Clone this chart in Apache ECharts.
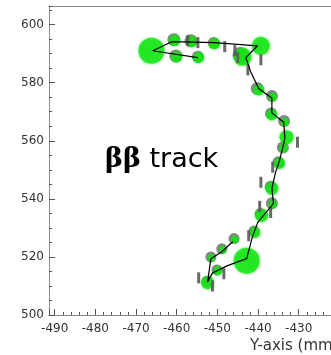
<!DOCTYPE html>
<html>
<head>
<meta charset="utf-8">
<script src="https://cdn.jsdelivr.net/npm/echarts@6/dist/echarts.min.js"></script>
<style>html,body{margin:0;padding:0;background:#fff;}#c{width:331px;height:355px;}</style>
</head>
<body>
<div id="c"></div>
<script>
// Axis ranges / ticks
var xRange = [-491.4, -420];
var yRange = [500, 606.4];
var yMajorStep = 20;
var yMinorStep = 5;
var xTitle = 'Y-axis (mm)';

// Green hit circles: x, y (mm) and diameter
var greenX = [-466.2,-460.5,-456.3,-460.0,-454.6,-450.7,-443.8,-439.3,-439.8,-436.4,-436.6,-433.4,-433.0,-433.7,-434.7,-436.6,-436.4,-439.1,-440.8,-442.8,-445.7,-448.7,-451.4,-449.9,-452.4];
var greenY = [591.0,594.5,594.1,588.9,588.6,593.4,588.9,592.7,577.5,575.1,568.9,566.4,561.2,557.4,552.2,543.6,538.1,534.3,528.4,518.7,526.0,522.5,519.7,515.2,511.1];
var greenS = [26,11,11,11,11,11,18,18,11,8,11,8,14,8,11,13,8,13,11,26,7,7,7,9,13];

// Gray hit circles
var grayX = [-460.7,-456.5,-460.2,-454.8,-450.9,-444.3,-440.2,-436.6,-436.8,-433.6,-433.9,-435.0,-436.9,-436.6,-439.4,-441.0,-445.9,-448.9,-451.6,-450.1,-452.6];
var grayY = [594.8,594.4,589.2,588.9,593.7,589.5,578.0,575.4,569.4,566.8,557.7,552.6,544.2,538.5,534.8,528.9,526.3,522.8,520.0,515.5,511.6];
var grayS = [13,13,13,12,12,16,13,12,12,12,12,12,12,12,12,11,11,11,11,11,11];

// Gray strip dashes
var dashX = [-457.3,-454.8,-448.2,-445.7,-445.0,-442.5,-439.3,-430.3,-436.4,-439.3,-439.6,-436.9,-442.3,-448.4,-451.2,-454.6];
var dashY = [594.5,593.8,592.4,591.0,588.6,584.4,587.9,559.5,550.9,545.7,537.4,535.3,527.3,514.2,510.0,512.8];

// Reconstructed track (black line)
var trackX = [-454.8,-465.9,-461.2,-450.7,-440.1,-443.0,-441.8,-439.8,-436.6,-436.6,-433.7,-433.4,-433.9,-434.7,-435.7,-436.6,-436.2,-438.9,-440.1,-441.3,-442.8,-447.5,-451.2,-452.4,-451.6,-448.9,-446.2];
var trackY = [588.6,591.0,594.1,593.8,592.7,588.6,583.7,577.9,574.7,569.6,566.4,560.9,557.8,553.3,549.1,543.6,538.4,533.9,531.8,527.3,519.4,517.0,514.5,511.4,519.4,521.8,525.3];

function zip3(a,b,c){return a.map(function(v,i){return c?[v,b[i],c[i]]:[v,b[i]];});}

var chart = echarts.init(document.getElementById('c'), null, {renderer:'canvas'});
var tickFont = {fontFamily:'DejaVu Sans', fontSize:12, color:'#333'};
chart.setOption({
  animation:false,
  title:{
    text:'{b|ββ} track', left:100, top:141,
    textStyle:{fontFamily:'DejaVu Sans', fontSize:27, fontWeight:'normal', color:'#000',
      rich:{b:{fontFamily:'DejaVu Serif', fontWeight:'bold', fontSize:27, color:'#000'}}}
  },
  graphic:[{
    type:'text', left:250, top:339, silent:true,
    style:{text:xTitle, fontFamily:'DejaVu Sans', fontSize:15, fill:'#333'}
  }],
  grid:{left:49, top:6, width:290.4, height:309, containLabel:false, outerBoundsMode:'none'},
  xAxis:[{
    type:'value', min:xRange[0], max:xRange[1], splitNumber:7, position:'bottom',
    axisLine:{lineStyle:{color:'#888', width:1}},
    axisTick:{inside:true, length:6, lineStyle:{color:'#555'}},
    minorTick:{show:true, splitNumber:5, length:3, lineStyle:{color:'#555'}},
    splitLine:{show:false},
    axisLabel:Object.assign({margin:8, showMinLabel:false, showMaxLabel:false}, tickFont)
  },{
    type:'value', min:xRange[0], max:xRange[1], position:'top',
    axisLine:{show:true, lineStyle:{color:'#888', width:1}},
    axisTick:{show:false}, axisLabel:{show:false}, splitLine:{show:false}
  }],
  yAxis:[{
    type:'value', min:yRange[0], max:yRange[1], interval:yMajorStep, position:'left',
    axisLine:{show:true, lineStyle:{color:'#888', width:1}},
    axisTick:{inside:true, length:6, lineStyle:{color:'#555'}},
    splitLine:{show:false},
    axisLabel:Object.assign({margin:5, showMaxLabel:false}, tickFont)
  },{
    type:'value', min:yRange[0], max:yRange[1], interval:yMinorStep, position:'left',
    axisLine:{show:false},
    axisTick:{inside:true, length:3, lineStyle:{color:'#555'}},
    axisLabel:{show:false}, splitLine:{show:false}
  }],
  series:[
    {type:'scatter', silent:true, xAxisIndex:0, yAxisIndex:0, data:zip3(grayX,grayY,grayS),
      symbol:'circle', symbolSize:function(v){return v[2];},
      itemStyle:{color:'#707070', opacity:0.85}},
    {type:'scatter', silent:true, xAxisIndex:0, yAxisIndex:0, data:zip3(greenX,greenY,greenS),
      symbol:'circle', symbolSize:function(v){return v[2];},
      itemStyle:{color:'#12e612', shadowBlur:3, shadowColor:'rgba(20,230,20,0.8)'}},
    {type:'scatter', silent:true, xAxisIndex:0, yAxisIndex:0, data:zip3(dashX,dashY),
      symbol:'rect', symbolSize:[3,11],
      itemStyle:{color:'#5a5a5a', opacity:0.9}},
    {type:'line', silent:true, xAxisIndex:0, yAxisIndex:0, data:zip3(trackX,trackY),
      showSymbol:false, symbol:'none', lineStyle:{color:'#000', width:1.2}}
  ]
});
</script>
</body>
</html>
